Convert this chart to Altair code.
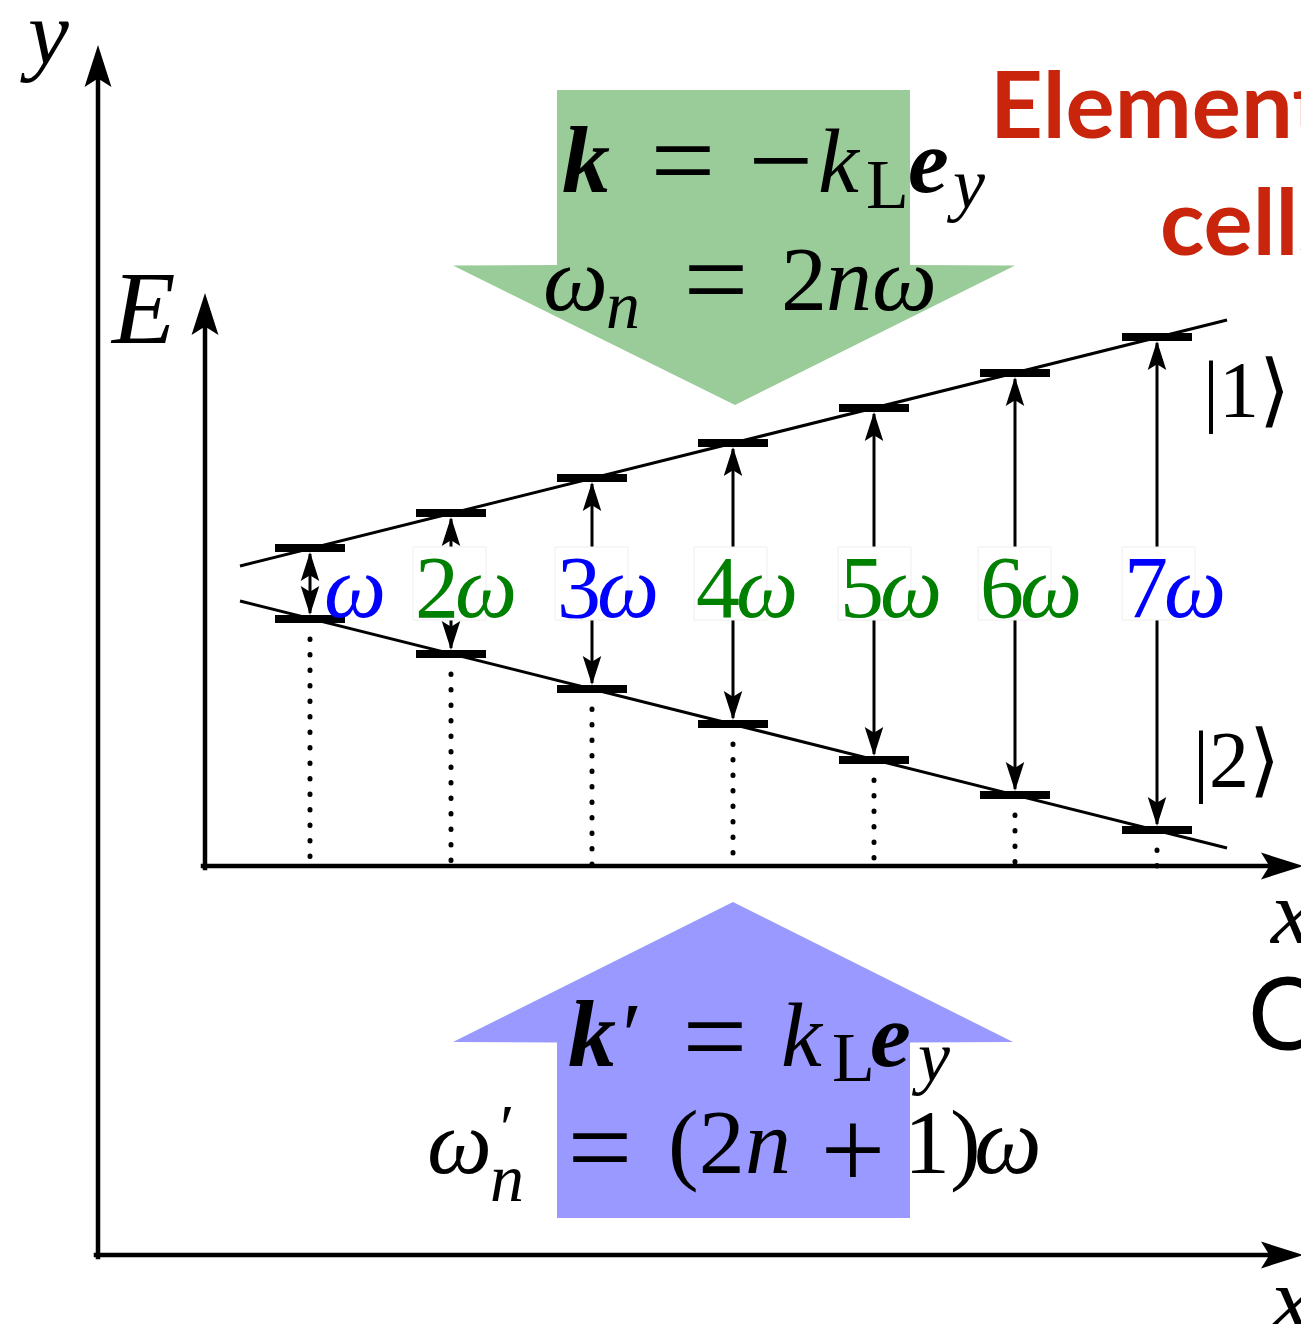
import altair as alt
import pandas as pd

# ---------------- data (image pixel coordinates) ----------------
level_x = [310, 451, 592, 733, 874, 1015, 1157]
upper_y = [548, 513, 478, 443, 408, 373, 337]
lower_y = [619, 654, 689, 724, 760, 795, 830]
label_digits = ["", "2", "3", "4", "5", "6", "7"]
label_colors = ["#0000ff", "#008000", "#0000ff", "#008000", "#008000", "#008000", "#0000ff"]
label_left = [324, 415, 557, 696, 840, 980, 1124]
label_base = 617
box_top, box_bottom = 547, 620

line_name = ["upper", "upper", "lower", "lower"]
line_x = [240, 1227, 240, 1227]
line_y = [566, 320, 601, 848]

axis_x = [98, 96, 205, 203]
axis_x2 = [98, 1290, 205, 1290]
axis_y = [1257, 1255, 868, 866]
axis_y2 = [62, 1255, 312, 866]

big_head_x = [98, 205, 1303, 1303]
big_head_y = [45, 293, 866, 1255]
big_head_angle = [0, 0, 90, 90]

green_y = [90, 265, 265.5, 405]
green_x = [557, 557, 453, 735]
green_x2 = [910, 910, 1015, 735]
blue_y = [902, 1042, 1042.5, 1218]
blue_x = [733, 453, 557, 557]
blue_x2 = [733, 1013, 910, 910]

# text fragments: text, x, baseline y, size, group, colour
frag_text = ["k", "=", "\u2212", "k", "L", "e", "y",
             "\u03c9", "n", "=", "2", "n\u03c9",
             "k", "\u2032", "=", "k", "L", "e", "y",
             "\u03c9", "\u2032", "n", "=", "(2", "n", "+", "1)", "\u03c9",
             "y", "E", "x", "x", "|1\u27e9", "|2\u27e9",
             "Elementary", "cells", "C"]
frag_x = [562, 683, 781, 818, 866, 908, 953,
          543, 606, 716, 781, 826,
          568, 622, 715, 781, 832, 870, 918,
          427, 500, 490, 600, 668, 745, 853, 904, 974,
          28, 112, 1271, 1271, 1203, 1193,
          990, 1160, 1248]
frag_y = [192, 199, 199, 192, 208, 192, 208,
          310, 328, 318, 310, 310,
          1066, 1066, 1075, 1066, 1081, 1066, 1081,
          1173, 1150, 1201, 1186, 1173, 1173, 1188, 1173, 1173,
          64, 343, 943, 1330, 417, 787,
          138, 255, 1050]
frag_size = [96, 115, 115, 92, 70, 92, 72,
             92, 68, 115, 92, 92,
             96, 92, 115, 92, 70, 92, 72,
             92, 66, 68, 115, 92, 92, 115, 92, 96,
             92, 104, 92, 92, 80, 80,
             92, 92, 100]
frag_group = ["bi", "op", "op", "it", "rm", "bi", "it",
              "it", "it", "op", "rm", "it",
              "bi", "rm", "op", "it", "rm", "bi", "it",
              "it", "rm", "it", "op", "rm", "it", "op", "rm", "it",
              "it", "it", "it", "it", "rm", "rm",
              "sb", "sb", "sr"]
frag_color = ["#000000"] * 34 + ["#c8250c", "#c8250c", "#000000"]

# ---------------- tables ----------------
texts = pd.DataFrame({"t": frag_text, "x": frag_x, "y": frag_y, "s": frag_size,
                      "g": frag_group, "c": frag_color})
lab_rows = []
for i in range(7):
    if label_digits[i]:
        lab_rows.append({"t": label_digits[i], "x": label_left[i], "y": label_base, "s": 88,
                         "g": "rm", "c": label_colors[i]})
        lab_rows.append({"t": "\u03c9", "x": label_left[i] + 40, "y": label_base, "s": 88,
                         "g": "it", "c": label_colors[i]})
    else:
        lab_rows.append({"t": "\u03c9", "x": label_left[i], "y": label_base, "s": 88,
                         "g": "it", "c": label_colors[i]})
texts = pd.concat([texts, pd.DataFrame(lab_rows)], ignore_index=True)

boxes = pd.DataFrame({"x": [label_left[i] - 2 for i in range(1, 7)],
                      "x2": [label_left[i] + 71 for i in range(1, 7)],
                      "y": [box_top] * 6, "y2": [box_bottom] * 6})

lines = pd.DataFrame({"n": line_name, "x": line_x, "y": line_y})
axes = pd.DataFrame({"x": axis_x, "x2": axis_x2, "y": axis_y, "y2": axis_y2})

bars = pd.DataFrame({"x": [v - 35 for v in level_x] * 2, "x2": [v + 35 for v in level_x] * 2,
                     "y": upper_y + lower_y})

seg_rows = []
for i, xv in enumerate(level_x):
    if i == 0:
        seg_rows.append({"x": xv, "y": upper_y[i] + 6, "y2": lower_y[i] - 6})
    else:
        seg_rows.append({"x": xv, "y": upper_y[i] + 6, "y2": box_top})
        seg_rows.append({"x": xv, "y": box_bottom, "y2": lower_y[i] - 6})
segs = pd.DataFrame(seg_rows)

dots = pd.DataFrame({"x": level_x, "y": [v + 20 for v in lower_y], "y2": [866] * 7})

heads = pd.DataFrame({
    "x": big_head_x + level_x + level_x,
    "y": big_head_y + [v + 4 for v in upper_y] + [v - 4 for v in lower_y],
    "a": big_head_angle + [0] * 7 + [180] * 7,
    "s": [1764] * 4 + [841] * 14,
})

green = pd.DataFrame({"x": green_x, "x2": green_x2, "y": green_y})
blue = pd.DataFrame({"x": blue_x, "x2": blue_x2, "y": blue_y})

# ---------------- scales ----------------
W, H = 1293, 1316
xs = alt.Scale(domain=[8, 8 + W], nice=False, zero=False)
ys = alt.Scale(domain=[8, 8 + H], nice=False, zero=False, reverse=True)
X = lambda f="x": alt.X(f"{f}:Q", scale=xs, axis=None)
Y = lambda f="y": alt.Y(f"{f}:Q", scale=ys, axis=None)

head_path = "M0,0 L0.64,2 L0,1.6 L-0.64,2 Z"

layers = []
layers.append(alt.Chart(green).mark_area(orient="horizontal", color="#99cc99", clip=True)
              .encode(x=X(), x2="x2:Q", y=Y()))
layers.append(alt.Chart(blue).mark_area(orient="horizontal", color="#9999ff", clip=True)
              .encode(x=X(), x2="x2:Q", y=Y()))
layers.append(alt.Chart(axes).mark_rule(color="black", strokeWidth=4.5, strokeCap="square", clip=True)
              .encode(x=X(), x2="x2:Q", y=Y(), y2="y2:Q"))
layers.append(alt.Chart(lines).mark_line(color="black", strokeWidth=3, clip=True)
              .encode(x=X(), y=Y(), detail="n:N"))
layers.append(alt.Chart(bars).mark_rule(color="black", strokeWidth=8, clip=True)
              .encode(x=X(), x2="x2:Q", y=Y()))
layers.append(alt.Chart(segs).mark_rule(color="black", strokeWidth=3, clip=True)
              .encode(x=X(), y=Y(), y2="y2:Q"))
layers.append(alt.Chart(dots).mark_rule(color="black", strokeWidth=5, strokeDash=[0.5, 15],
                                        strokeCap="round", clip=True)
              .encode(x=X(), y=Y(), y2="y2:Q"))
layers.append(alt.Chart(heads).mark_point(shape=head_path, filled=True, color="black",
                                          opacity=1, strokeWidth=0, clip=True)
              .encode(x=X(), y=Y(), size=alt.Size("s:Q", scale=None),
                      angle=alt.Angle("a:Q", scale=None)))
layers.append(alt.Chart(boxes).mark_rect(fill="white", stroke="#eeeeee", strokeWidth=1, clip=True)
              .encode(x=X(), x2="x2:Q", y=Y(), y2="y2:Q"))

serif = "Liberation Serif"
styles = {
    "it": dict(font=serif, fontStyle="italic", fontWeight="normal", align="left"),
    "rm": dict(font=serif, fontStyle="normal", fontWeight="normal", align="left"),
    "bi": dict(font=serif, fontStyle="italic", fontWeight="bold", align="left"),
    "op": dict(font=serif, fontStyle="normal", fontWeight="normal", align="center"),
    "sb": dict(font="Lato", fontStyle="normal", fontWeight="bold", align="left"),
    "sr": dict(font="Lato", fontStyle="normal", fontWeight="normal", align="left"),
}
for g, st in styles.items():
    layers.append(alt.Chart(texts).transform_filter(alt.datum.g == g)
                  .mark_text(baseline="alphabetic", clip=True, **st)
                  .encode(x=X(), y=Y(), text="t:N",
                          size=alt.Size("s:Q", scale=None),
                          color=alt.Color("c:N", scale=None)))

chart = alt.layer(*layers).properties(
    width=W, height=H, padding=0,
    autosize=alt.AutoSizeParams(type="none"),
    background="white",
).configure_view(stroke=None)

chart.save("out.html", embed_options={"renderer": "svg", "actions": False})
